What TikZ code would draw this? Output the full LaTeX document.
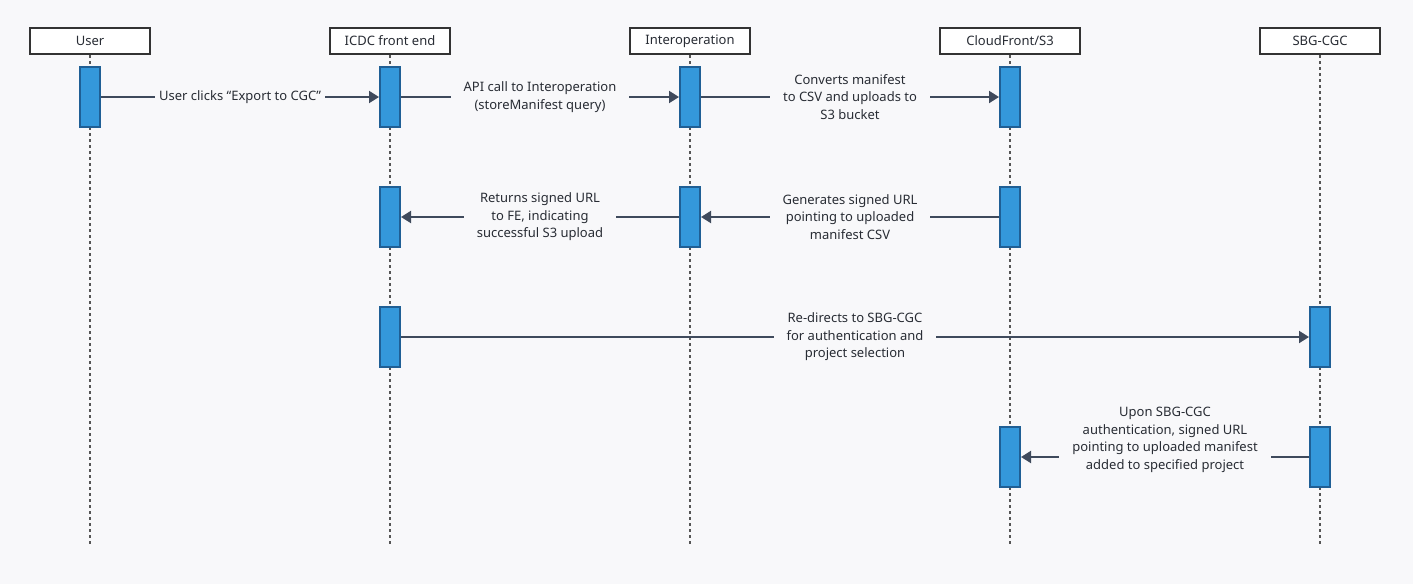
\documentclass[tikz,border=0pt]{standalone}
\usepackage{fontspec}
\setmainfont{Noto Sans}
\usetikzlibrary{arrows.meta}
\definecolor{bg}{RGB}{248,248,250}
\definecolor{ink}{RGB}{63,74,92}
\definecolor{actfill}{RGB}{52,152,219}
\definecolor{actborder}{RGB}{31,95,149}
\definecolor{headborder}{RGB}{51,51,51}
\definecolor{lifec}{RGB}{85,85,85}
\definecolor{txt}{RGB}{40,44,52}
\begin{document}
\begin{tikzpicture}[x=1pt,y=-1pt,
  head/.style={draw=headborder,line width=2pt,fill=white,minimum width=120pt,minimum height=26pt,inner sep=0pt,text=txt,font=\fontsize{13}{16}\selectfont},
  act/.style={draw=actborder,line width=2pt,fill=actfill,minimum width=20pt,minimum height=60pt,inner sep=0pt},
  life/.style={draw=lifec,line width=1.5pt,dash pattern=on 3pt off 3pt},
  msg/.style={draw=ink,line width=2pt,-{Triangle[length=10pt,width=12pt]}},
  lbl/.style={fill=bg,text=txt,align=center,inner xsep=13pt,inner ysep=0pt,font=\fontsize{13}{17.6}\selectfont},
  lbls/.style={lbl,inner xsep=4pt}]
\useasboundingbox (0,0) rectangle (1413,584);
\fill[bg] (0,0) rectangle (1413,584);
% headers
\node[head] (hU) at (90,41) {User};
\node[head] (hI) at (390,41) {ICDC front end};
\node[head] (hO) at (690,41) {Interoperation};
\node[head,minimum width=140pt] (hC) at (1010,41) {CloudFront/S3};
\node[head] (hS) at (1320,41) {SBG-CGC};
% lifeline ends
\coordinate (eU) at (90,545);
\coordinate (eI) at (390,545);
\coordinate (eO) at (690,545);
\coordinate (eC) at (1010,545);
\coordinate (eS) at (1320,545);
\draw[life] (hU.south) -- (eU);
\draw[life] (hI.south) -- (eI);
\draw[life] (hO.south) -- (eO);
\draw[life] (hC.south) -- (eC);
\draw[life] (hS.south) -- (eS);
% activations
\node[act] (u1) at (90,97) {};
\node[act] (i1) at (390,97) {};
\node[act] (o1) at (690,97) {};
\node[act] (c1) at (1010,97) {};
\node[act] (i2) at (390,217) {};
\node[act] (o2) at (690,217) {};
\node[act] (c2) at (1010,217) {};
\node[act] (i3) at (390,337) {};
\node[act] (s3) at (1320,337) {};
\node[act] (c4) at (1010,457) {};
\node[act] (s4) at (1320,457) {};
% messages
\draw[msg] (u1.east) -- (i1.west) node[midway,lbls] {User clicks “Export to CGC”};
\draw[msg] (i1.east) -- (o1.west) node[midway,lbl] {API call to Interoperation\\(storeManifest query)};
\draw[msg] (o1.east) -- (c1.west) node[midway,lbl] {Converts manifest\\to CSV and uploads to\\S3 bucket};
\draw[msg] (c2.west) -- (o2.east) node[midway,lbl] {Generates signed URL\\pointing to uploaded\\manifest CSV};
\draw[msg] (o2.west) -- (i2.east) node[midway,lbl] {Returns signed URL\\to FE, indicating\\successful S3 upload};
\draw[msg] (i3.east) -- (s3.west) node[midway,lbl] {Re-directs to SBG-CGC\\for authentication and\\project selection};
\draw[msg] (s4.west) -- (c4.east) node[midway,lbl,yshift=17pt] {Upon SBG-CGC\\authentication, signed URL\\pointing to uploaded manifest\\added to specified project};
\end{tikzpicture}
\end{document}
